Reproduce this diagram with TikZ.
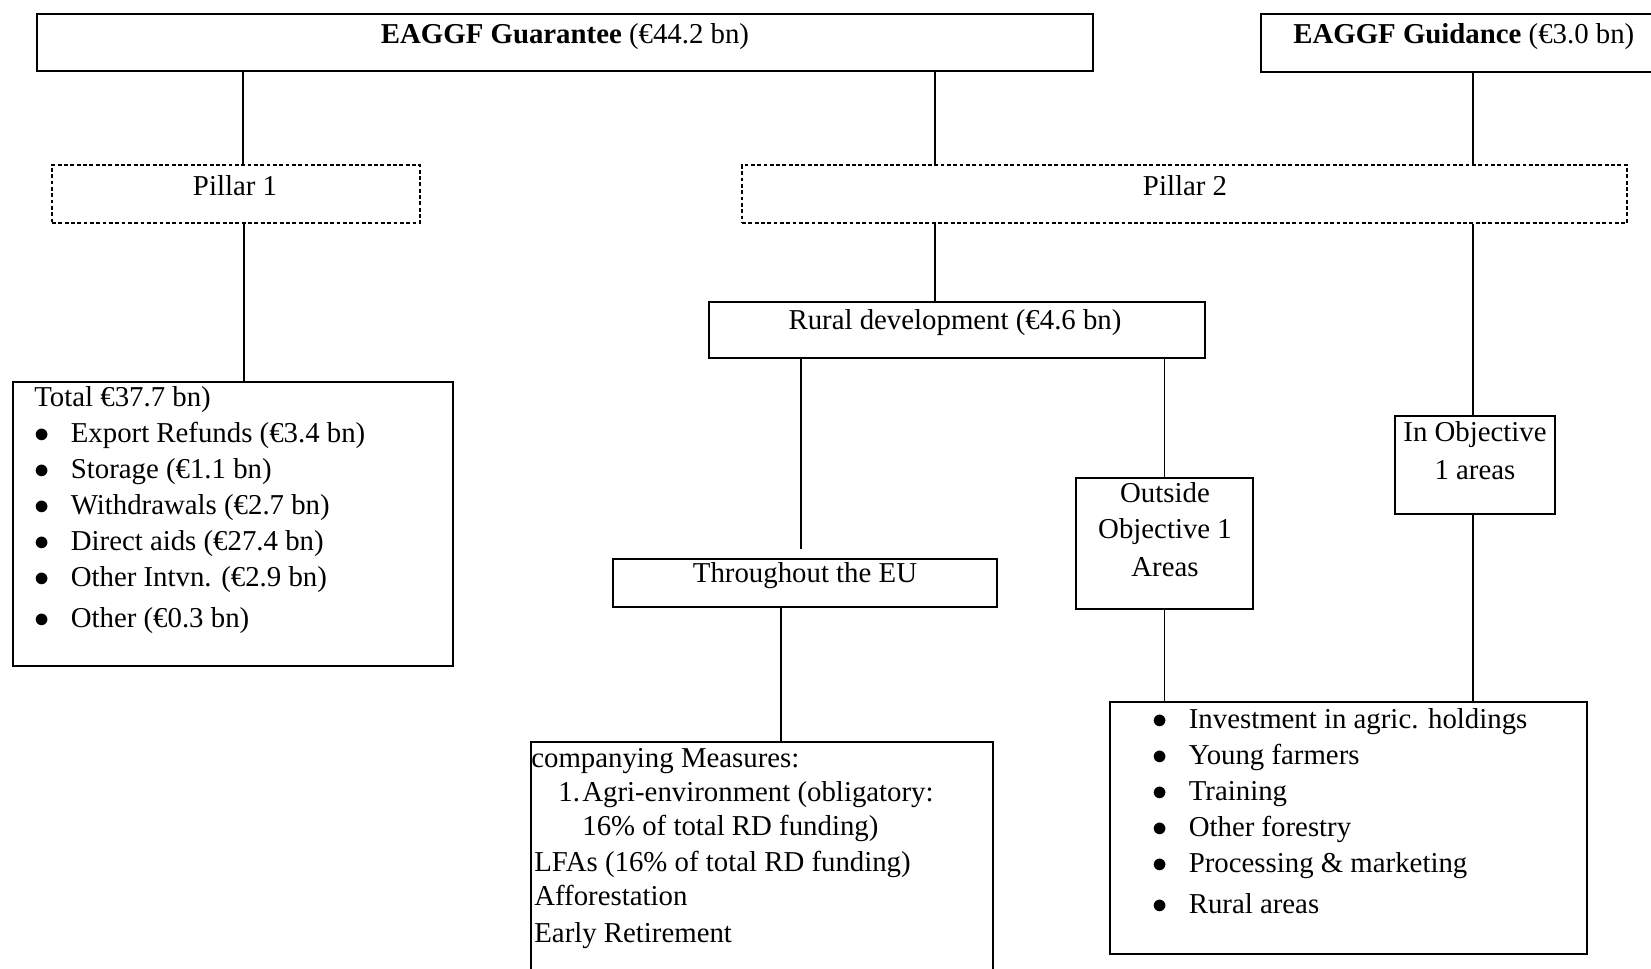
\documentclass[tikz,border=0pt]{standalone}
\usepackage{fontspec}
\setmainfont{Liberation Serif}
\usetikzlibrary{fit}

\newcommand{\bul}{\makebox[0.73cm][l]{$\bullet$}}

\begin{document}
\begin{tikzpicture}[x=0.02cm, y=-0.02cm]
    \tikzset{
        box/.style={draw, line width=0.8pt, inner sep=0pt},
        headbox/.style={box, line width=1.3pt},
        pillarbox/.style={draw, line width=0.9pt, dash pattern=on 2.2pt off 1.4pt, inner sep=0pt},
        txt/.style={inner sep=0pt, font=\fontsize{16.4}{20.5}\selectfont},
        link/.style={line width=0.8pt},
    }
    \clip (0,0) rectangle (1651,968);

    % funds
    \node[headbox, fit={(37,14) (1093,71)}] (guar) {};
    \node[headbox, fit={(1261,14) (1700,72)}] (guid) {};
    \node[txt, anchor=base] (guartxt) at (565,43) {\textbf{EAGGF Guarantee} (€44.2 bn)};
    \node[txt, anchor=base west] (guidtxt) at (1293,43) {\textbf{EAGGF Guidance} (€3.0 bn)};

    % pillars
    \node[pillarbox, fit={(52,165) (420,223)}] (p1) {};
    \node[pillarbox, fit={(742,165) (1627,223)}] (p2) {};
    \node[txt, anchor=base] (p1txt) at (235,195) {Pillar 1};
    \node[txt, anchor=base] (p2txt) at (1185,195) {Pillar 2};

    % pillar 1
    \node[box, fit={(13,382) (453,666)}] (total) {};
    \node[txt, anchor=north west, align=left] (totaltxt) at (34,386) {%
        Total €37.7 bn)\\
        \bul Export Refunds (€3.4 bn)\\
        \bul Storage (€1.1 bn)\\
        \bul Withdrawals (€2.7 bn)\\
        \bul Direct aids (€27.4 bn)\\
        \bul Other Intvn. (€2.9 bn)\\[3pt]
        \bul Other (€0.3 bn)};

    % pillar 2
    \node[box, fit={(709,302) (1205,358)}] (rd) {};
    \node[txt, anchor=base] (rdtxt) at (955,329) {Rural development (€4.6 bn)};

    \node[box, fit={(613,559) (997,607)}] (thr) {};
    \node[txt, anchor=base] (thrtxt) at (805,582) {Throughout the EU};

    \node[box, fit={(531,742) (993,1000)}] (acc) {};
    \node[txt, anchor=north west, align=left] (acctxt) at (531,748) {%
        companying Measures:\\[-1pt]
        \hspace*{0.54cm}\makebox[0.48cm][l]{1.}Agri-environment (obligatory:\\[-1pt]
        \hspace*{1.02cm}16\% of total RD funding)\\[-0.5pt]
        \hspace*{0.06cm}LFAs (16\% of total RD funding)\\[-1pt]
        \hspace*{0.06cm}Afforestation\\[0.5pt]
        \hspace*{0.06cm}Early Retirement};

    \node[box, fit={(1076,478) (1253,609)}] (out) {};
    \node[txt, anchor=north, align=center] (outtxt) at (1165,482) {%
        Outside\\ Objective 1\\[1pt] Areas};

    \node[box, fit={(1395,416) (1555,514)}] (inobj) {};
    \node[txt, anchor=north, align=center] (inobjtxt) at (1475,421) {%
        In Objective\\[1pt] 1 areas};

    \node[box, fit={(1110,702) (1587,954)}] (inv) {};
    \node[txt, anchor=north west, align=left] (invtxt) at (1152,708) {%
        \bul Investment in agric. holdings\\
        \bul Young farmers\\
        \bul Training\\
        \bul Other forestry\\
        \bul Processing \& marketing\\[3pt]
        \bul Rural areas};

    % links
    \draw[link] (guar.south -| 243,0) -- (p1.north -| 243,0);
    \draw[link] (guar.south -| 935,0) -- (p2.north -| 935,0);
    \draw[link] (guid.south -| 1473,0) -- (p2.north -| 1473,0);
    \draw[link] (p1.south -| 244,0) -- (total.north -| 244,0);
    \draw[link] (p2.south -| 935,0) -- (rd.north -| 935,0);
    \draw[link, shorten >=0.18cm] (rd.south -| 801,0) -- (thr.north -| 801,0);
    \draw[link] (thr.south -| 781,0) -- (acc.north -| 781,0);
    \draw[link] (rd.south -| out.north) -- (out.north);
    \draw[link] (p2.south -| 1473,0) -- (inobj.north -| 1473,0);
    \draw[link] (out.south) -- (inv.north -| out.south);
    \draw[link] (inobj.south -| 1473,0) -- (inv.north -| 1473,0);
\end{tikzpicture}
\end{document}
